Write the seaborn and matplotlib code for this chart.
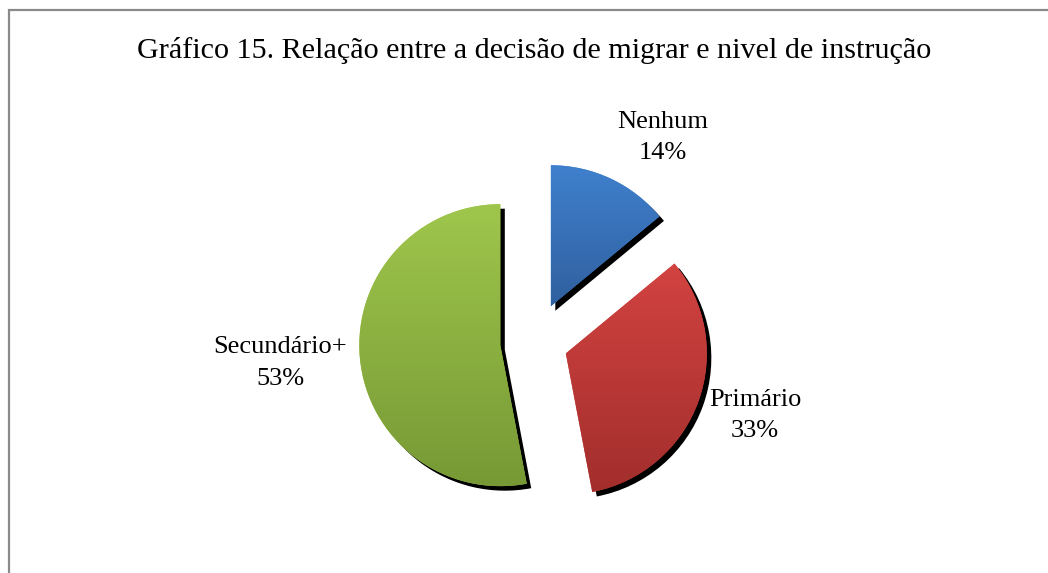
import numpy as np
import matplotlib.pyplot as plt
import seaborn as sns
from matplotlib.colors import LinearSegmentedColormap
from matplotlib.patches import Rectangle

# dados do gráfico
categorias = ['Nenhum', 'Primário', 'Secundário+']
percentagens = [14, 33, 53]

# estilo
cores_topo = ['#3f80cd', '#d24341', '#9fc64c']
cores_base = ['#30609f', '#a22e2c', '#779935']
explode = [0.28, 0.24, 0.24]
# posição dos rótulos (relativa ao centro da pizza, em raios)
pos_rotulos = [(0.915, 1.45), (1.567, -0.52), (-1.80, -0.15)]

sns.set_theme(style='white')
plt.rcParams['font.family'] = ['Liberation Serif', 'DejaVu Serif']

W, H = 1048, 573
R = 141          # raio em pixels
cx, cy = 534, H - 342

fig = plt.figure(figsize=(W / 100, H / 100), dpi=100)
ax = fig.add_axes([0, 0, 1, 1])

# sombra
off = 4.5 / R
ax.pie(percentagens, explode=explode, startangle=90, counterclock=False,
       center=(off, -off), colors=['black'] * 3,
       wedgeprops=dict(linewidth=0))

wedges, _ = ax.pie(percentagens, explode=explode, startangle=90,
                   counterclock=False, colors=cores_topo,
                   wedgeprops=dict(linewidth=0))

# gradiente vertical em cada fatia
grad = np.linspace(0, 1, 256).reshape(-1, 1)
for w, c1, c2 in zip(wedges, cores_topo, cores_base):
    bb = w.get_path().get_extents()
    cmap = LinearSegmentedColormap.from_list('g', [c1, c2])
    im = ax.imshow(grad, cmap=cmap, aspect='auto', origin='upper',
                   extent=(bb.x0, bb.x1, bb.y0, bb.y1), zorder=w.get_zorder() + 0.1)
    im.set_clip_path(w)

for cat, pct, (lx, ly) in zip(categorias, percentagens, pos_rotulos):
    ax.text(lx, ly, f'{cat}\n{pct}%', ha='center', va='center',
            multialignment='center', fontsize=19, linespacing=1.55,
            color='black')

ax.set_xlim(-cx / R, (W - cx) / R)
ax.set_ylim(-cy / R, (H - cy) / R)
ax.set_aspect('auto')
ax.axis('off')

fig.text(0.5 * (137 + 932) / W, 1 - 50 / H,
         'Gráfico 15. Relação entre a decisão de migrar e nivel de instrução',
         ha='center', va='center', fontsize=21.7, color='black')

# moldura do gráfico
fig.patches.append(Rectangle((9 / W, -0.05), 1.2, 1 - 10 / H + 0.05,
                             transform=fig.transFigure, fill=False,
                             edgecolor='#8a8a8a', linewidth=1.6))

fig.savefig('out.png', dpi=100, facecolor='white')
